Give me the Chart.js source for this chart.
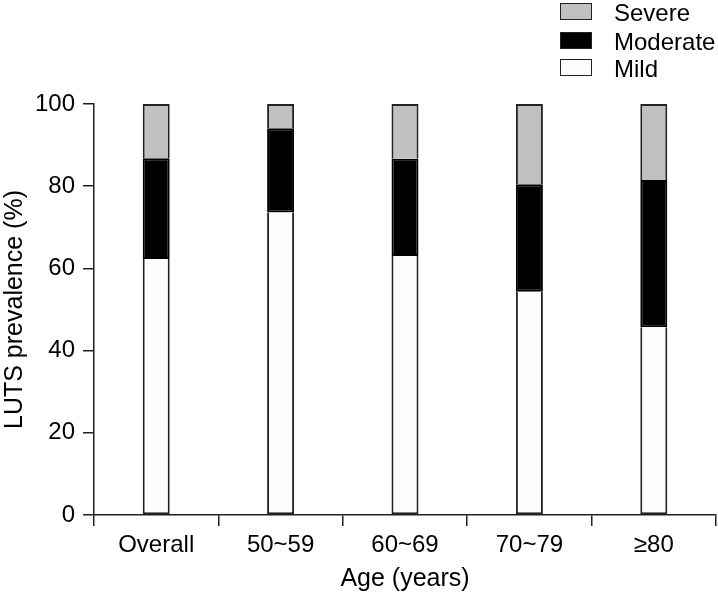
<!DOCTYPE html>
<html>
<head>
<meta charset="utf-8">
<script src="https://cdn.jsdelivr.net/npm/chart.js@4/dist/chart.umd.min.js"></script>
<style>
  html, body { margin: 0; padding: 0; background: #fff; }
  #wrap { position: relative; width: 718px; height: 596px; }
  canvas { position: absolute; left: 0; top: 0; }
  .leg { position: absolute; left: 560px; font-family: 'Liberation Sans', Arial, sans-serif; font-size: 24px; color: #000; height: 20px; }
  .leg .box { position: absolute; left: 0; top: 0; width: 30px; height: 15px; border: 1.5px solid #222; }
  .leg .lab { position: absolute; left: 54px; top: -4px; white-space: nowrap; line-height: 27px; }
</style>
</head>
<body>
<div id="wrap">
  <canvas id="c" width="718" height="596"></canvas>
</div>
<script>
const categories = ['Overall', '50~59', '60~69', '70~79', '\u226580'];
const mild = [62.3, 73.6, 63.0, 54.3, 45.7];
const moderate = [24.5, 20.5, 23.7, 26.2, 35.8];
const severe = [13.2, 5.9, 13.3, 19.5, 18.5];
const seriesNames = ['Mild', 'Moderate', 'Severe'];
const seriesColors = ['#fdfdfd', '#000000', '#c0c0c0'];
const seriesBorders = ['#222', '#000', '#222'];
const seriesSkip = ['top', false, 'bottom'];
const yTicks = [0, 20, 40, 60, 80, 100];

const FONT = "'Liberation Sans', Arial, sans-serif";

// HTML legend (Severe, Moderate, Mild from top)
const wrap = document.getElementById('wrap');
const legendOrder = [2, 1, 0];
const legendTops = [3, 32, 59];
legendOrder.forEach((idx, i) => {
  const d = document.createElement('div');
  d.className = 'leg';
  d.style.top = legendTops[i] + 'px';
  const b = document.createElement('div');
  b.className = 'box';
  b.style.background = seriesColors[idx];
  const l = document.createElement('div');
  l.className = 'lab';
  l.textContent = seriesNames[idx];
  d.appendChild(b); d.appendChild(l);
  wrap.appendChild(d);
});

const seriesData = [mild, moderate, severe];
new Chart(document.getElementById('c'), {
  type: 'bar',
  data: {
    labels: categories,
    datasets: seriesNames.map((n, i) => ({
      label: n,
      data: seriesData[i],
      backgroundColor: seriesColors[i],
      borderColor: seriesBorders[i],
      borderWidth: 2,
      borderSkipped: seriesSkip[i],
      categoryPercentage: 1.0,
      barPercentage: 0.217
    }))
  },
  options: {
    responsive: false,
    animation: false,
    devicePixelRatio: 1,
    layout: { padding: { top: 104, right: 2, left: 0, bottom: 0 } },
    plugins: { legend: { display: false }, tooltip: { enabled: false } },
    scales: {
      x: {
        stacked: true,
        offset: true,
        afterFit: (s) => { s.height = 81; },
        grid: { offset: true, drawOnChartArea: false, drawTicks: true, tickLength: 11, color: '#222', lineWidth: 1.5 },
        border: { display: true, color: '#222', width: 1.5 },
        ticks: { color: '#000', font: { family: FONT, size: 24 }, padding: 5 },
        title: { display: true, text: 'Age (years)', color: '#000', font: { family: FONT, size: 25 }, padding: { top: 0, bottom: 2 } }
      },
      y: {
        stacked: true,
        min: 0, max: 100,
        afterFit: (s) => { s.width = 94; },
        afterBuildTicks: (s) => { s.ticks = yTicks.map(v => ({ value: v })); },
        grid: { drawOnChartArea: false, drawTicks: true, tickLength: 11, color: '#222', lineWidth: 1.5 },
        border: { display: true, color: '#222', width: 1.5 },
        ticks: { color: '#000', font: { family: FONT, size: 24 }, padding: 8 },
        title: { display: true, text: 'LUTS prevalence (%)', color: '#000', font: { family: FONT, size: 25 }, padding: { top: 0, bottom: 0 } }
      }
    }
  }
});
</script>
</body>
</html>
